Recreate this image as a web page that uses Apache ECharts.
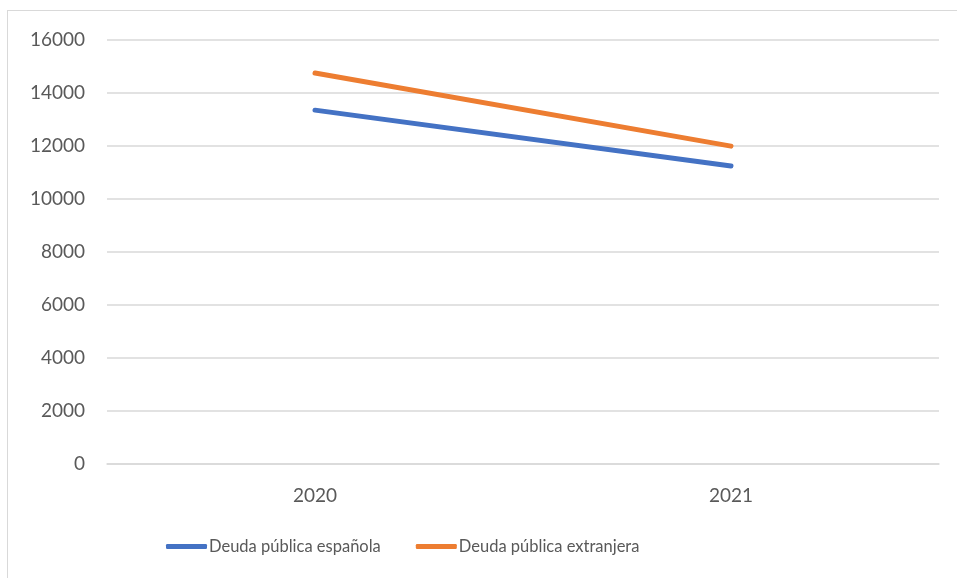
<!DOCTYPE html>
<html><head><meta charset="utf-8">
<script src="https://cdn.jsdelivr.net/npm/echarts@6/dist/echarts.min.js"></script>
<style>
html,body{margin:0;padding:0;background:#fff;}
#frame{position:absolute;left:7px;top:10px;width:1000px;height:700px;border:1.5px solid #d9d9d9;box-sizing:border-box;}
#c{position:absolute;left:0;top:0;width:957px;height:578px;}
</style></head>
<body>
<div id="frame"></div>
<div id="c"></div>
<script>
const categories = ['2020', '2021'];
const espanola = [13350, 11240];
const extranjera = [14750, 11990];
const seriesNames = ['Deuda pública española', 'Deuda pública extranjera'];

const chart = echarts.init(document.getElementById('c'), null, {renderer: 'canvas'});
const font = 'Lato';
chart.setOption({
  animation: false,
  backgroundColor: 'transparent',
  grid: {left: 107, right: 18, top: 40, bottom: 114.5},
  xAxis: {
    type: 'category', data: categories, boundaryGap: true,
    axisLine: {show: true, lineStyle: {color: '#d9d9d9', width: 1.5}},
    axisTick: {show: false},
    axisLabel: {color: '#595959', fontSize: 19, fontFamily: font, margin: 23}
  },
  yAxis: {
    type: 'value', min: 0, max: 16000, interval: 2000,
    axisLine: {show: false}, axisTick: {show: false},
    splitLine: {lineStyle: {color: '#d9d9d9', width: 1.5}},
    axisLabel: {color: '#595959', fontSize: 19, fontFamily: font, margin: 22,
      formatter: v => String(v)}
  },
  legend: {
    top: 538, left: 166, padding: 0,
    icon: 'roundRect', itemWidth: 41, itemHeight: 5, itemGap: 35,
    textStyle: {color: '#595959', fontSize: 16.5, fontFamily: font, padding: [0,0,0,-3]},
    data: seriesNames
  },
  series: [
    {name: seriesNames[0], type: 'line', data: espanola, showSymbol: false,
     lineStyle: {color: '#4472C4', width: 5, cap: 'round'}, itemStyle: {color: '#4472C4'}},
    {name: seriesNames[1], type: 'line', data: extranjera, showSymbol: false,
     lineStyle: {color: '#ED7D31', width: 5, cap: 'round'}, itemStyle: {color: '#ED7D31'}}
  ]
});
</script>
</body></html>
